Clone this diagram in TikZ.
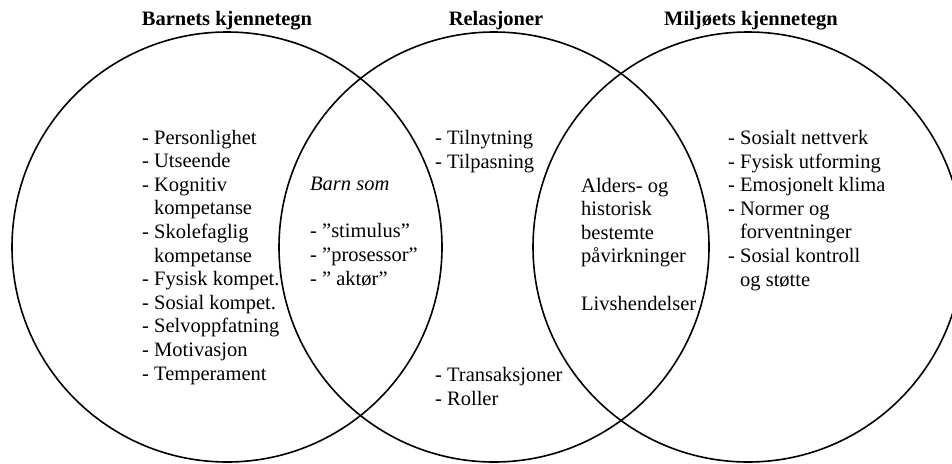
\documentclass[tikz,border=0pt]{standalone}
\usepackage{fontspec}
\setmainfont{Liberation Serif}
\newcommand{\ind}{\phantom{- }}
\begin{document}
\begin{tikzpicture}[x=1pt,y=-1pt,
    ring/.style={line width=1.6pt},
    head/.style={font=\fontsize{20.5}{23.6}\selectfont\bfseries, anchor=base, inner sep=0pt},
    lst/.style={font=\fontsize{20.5}{23.6}\selectfont, align=left, anchor=base west, inner sep=0pt}]
  \useasboundingbox (0,0) rectangle (952,463);
  % circles
  \draw[ring] (227,247) circle (215);
  \draw[ring] (494,247) circle (215);
  \draw[ring] (748,247) circle (215);
  % headings
  \node[head] (barn) at (227,25) {Barnets kjennetegn};
  \node[head] (rel) at (496,25) {Relasjoner};
  \node[head] (milj) at (751,25) {Miljøets kjennetegn};
  % lists (placed at the baseline of their last line)
  \node[lst] (barnlist) at (142,380) {- Personlighet\\- Utseende\\- Kognitiv\\\ind kompetanse\\- Skolefaglig\\\ind kompetanse\\- Fysisk kompet.\\- Sosial kompet.\\- Selvoppfatning\\- Motivasjon\\- Temperament};
  \node[lst] (barnsom) at (310,285) {\textit{Barn som}\\[23.6pt]- ”stimulus”\\- ”prosessor”\\- ” aktør”};
  \node[lst] (tilpas) at (435,168) {- Tilnytning\\- Tilpasning};
  \node[lst] (trans) at (435,405) {- Transaksjoner\\- Roller};
  \node[lst] (alders) at (581,310) {Alders- og\\historisk\\bestemte\\påvirkninger\\[23.6pt]Livshendelser};
  \node[lst] (miljlist) at (728,286) {- Sosialt nettverk\\- Fysisk utforming\\- Emosjonelt klima\\- Normer og\\\ind forventninger\\- Sosial kontroll\\\ind og støtte};
\end{tikzpicture}
\end{document}
